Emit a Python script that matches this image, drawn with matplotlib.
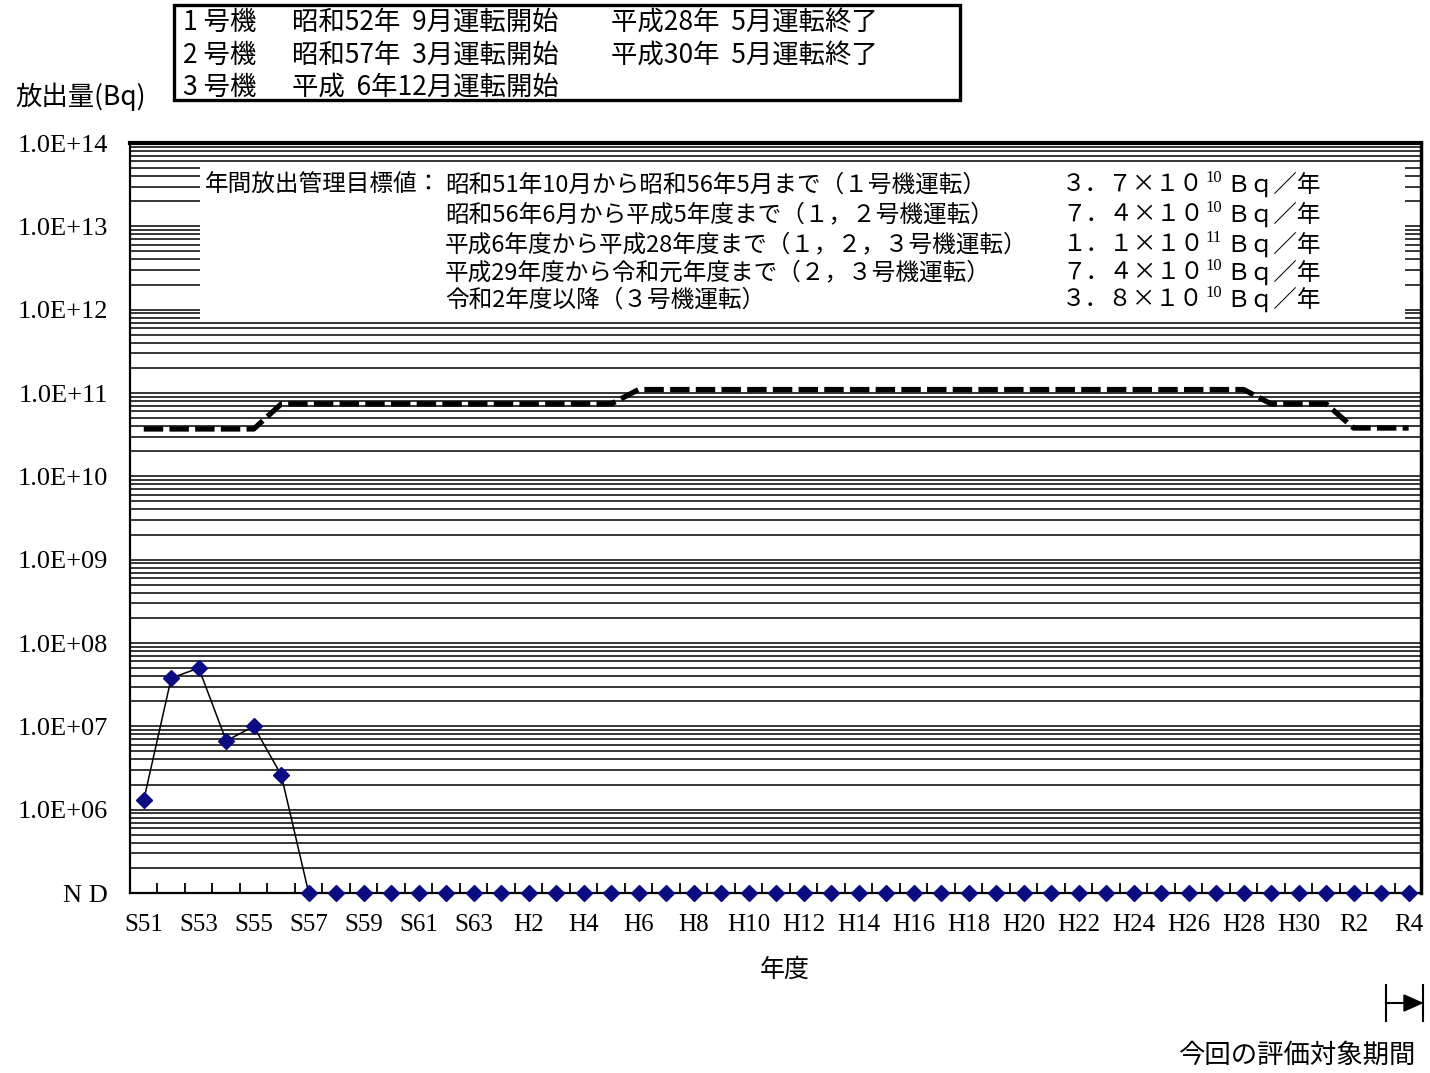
import numpy as np
import matplotlib.pyplot as plt
from matplotlib.patches import Rectangle, Polygon
from matplotlib.lines import Line2D
from matplotlib.ticker import NullLocator

plt.rcParams['font.family'] = ['Noto Sans CJK JP', 'DejaVu Sans']
plt.rcParams['lines.scale_dashes'] = False

# 年度ラベル (S51 ～ R4)
years = (['S%d' % y for y in range(51, 64)]
         + ['H%d' % y for y in range(1, 31)]
         + ['R%d' % y for y in range(1, 5)])

# 放出量 (Bq)、None は ND
ND = None
release = [1.3e6, 3.8e7, 5.0e7, 6.7e6, 1.0e7, 2.6e6] + [ND] * 41
ND_LEVEL = 1e5

# 年間放出管理目標値と適用年度数
target_values = [3.7e10, 7.4e10, 1.1e11, 7.4e10, 3.8e10]
target_years = [5, 13, 23, 3, 3]
target = np.repeat(target_values, target_years)

units = ['1 号機', '2 号機', '3 号機']
unit_start = ['昭和52年  9月運転開始', '昭和57年  3月運転開始', '平成  6年12月運転開始']
unit_stop = ['平成28年  5月運転終了', '平成30年  5月運転終了', '']

target_title = '年間放出管理目標値：'
target_periods = ['昭和51年10月から昭和56年5月まで（１号機運転）',
                  '昭和56年6月から平成5年度まで（１，２号機運転）',
                  '平成6年度から平成28年度まで（１，２，３号機運転）',
                  '平成29年度から令和元年度まで（２，３号機運転）',
                  '令和2年度以降（３号機運転）']
target_mant = ['３．７×１０', '７．４×１０', '１．１×１０', '７．４×１０', '３．８×１０']
target_exp = ['10', '10', '11', '10', '10']

W, H = 1430, 1073


def fx(px):
    return px / W


def fy(py):
    return 1 - py / H


fig = plt.figure(figsize=(W / 100, H / 100), dpi=100)
ax = fig.add_axes([fx(130), fy(893), fx(1421) - fx(130), fy(143) - fy(893)])
ax.set_yscale('log')
ax.set_ylim(ND_LEVEL, 1e14)
x = np.arange(len(years))
ax.set_xlim(-0.5, 46.45)

# 横線 (1～9 × 10^k)
for k in range(5, 14):
    for m in range(1, 10):
        lvl = m * 10.0 ** k
        if lvl > ND_LEVEL:
            ax.axhline(lvl, color='black', lw=1.1, zorder=1)

# 目標値の説明欄 (白抜き)
x0, x1 = (200 - 130) / 1291, (1405 - 130) / 1291
y0, y1 = (893 - 320) / 750, (893 - 163) / 750
ax.add_patch(Rectangle((x0, y0), x1 - x0, y1 - y0, transform=ax.transAxes,
                       facecolor='white', edgecolor='none', zorder=2))

ax.plot(x, target, color='black', lw=3.8, dashes=(14, 4.5), zorder=3,
        solid_capstyle='butt', dash_capstyle='butt')

vals = [ND_LEVEL if v is None else v for v in release]
ax.plot(x, vals, color='black', lw=1.1, zorder=4, clip_on=False)
ax.plot(x, vals, ls='none', marker='D', ms=8.5, color='#0b0b82',
        zorder=5, clip_on=False)

yt = [10.0 ** k for k in range(5, 15)]
ax.set_yticks(yt)
ax.set_yticklabels(['N D'] + ['1.0E+%02d' % k for k in range(6, 15)],
                   family='Liberation Serif', fontsize=19)
ax.yaxis.set_minor_locator(NullLocator())
ax.tick_params(axis='y', which='both', length=0, pad=16)

ax.set_xticks(x[::2])
ax.set_xticklabels(years[::2], family='Liberation Serif', fontsize=18)
ax.set_xticks(x[:-1] + 0.5, minor=True)
ax.tick_params(axis='x', which='major', length=0, pad=15)
ax.tick_params(axis='x', which='minor', length=7, width=1.3, direction='in')

ax.spines['left'].set_linewidth(1.6)
ax.spines['bottom'].set_linewidth(1.6)
ax.spines['top'].set_linewidth(3)
ax.spines['right'].set_linewidth(2.5)

# 目標値テキスト (指数は上付きで後置)
row_y = [185, 215, 245, 273, 300]
fig.text(fx(205), fy(row_y[0]), target_title, va='center', fontsize=17)
for yy, per, mant, ex in zip(row_y, target_periods, target_mant, target_exp):
    fig.text(fx(445), fy(yy), per, va='center', fontsize=17)
    t1 = fig.text(fx(1062), fy(yy), mant, va='center', fontsize=17)
    t2 = ax.annotate(ex, xy=(1.0, 0.5), xycoords=t1, fontsize=12, va='bottom',
                     ha='left', family='Liberation Serif', xytext=(1, -1),
                     textcoords='offset points', annotation_clip=False)
    ax.annotate('Ｂｑ／年', xy=(1.0, 0.5), xycoords=t1, fontsize=17, va='center',
                ha='left', xytext=(16, 0), textcoords='offset points',
                annotation_clip=False)

# 号機の運転期間
fig.add_artist(Rectangle((fx(174), fy(100)), fx(960) - fx(174), fy(5) - fy(100),
                         transform=fig.transFigure, fill=False, lw=2.4,
                         edgecolor='black'))
for yy, u, s, e in zip([22, 55, 87], units, unit_start, unit_stop):
    fig.text(fx(183), fy(yy), u, va='center', fontsize=19)
    fig.text(fx(292), fy(yy), s, va='center', fontsize=19)
    fig.text(fx(611), fy(yy), e, va='center', fontsize=19)

fig.text(fx(15), fy(97), '放出量(Bq)', va='center', fontsize=19)
fig.text(fx(785), fy(970), '年度', ha='center', va='center', fontsize=18)

# 評価対象期間の矢印
for bx in (1386, 1423):
    fig.add_artist(Line2D([fx(bx), fx(bx)], [fy(985), fy(1021)],
                          transform=fig.transFigure, color='black', lw=1.5))
fig.add_artist(Line2D([fx(1386), fx(1408)], [fy(1003), fy(1003)],
                      transform=fig.transFigure, color='black', lw=1.5))
fig.add_artist(Polygon([(fx(1404), fy(995)), (fx(1404), fy(1011)), (fx(1422), fy(1003))],
                       closed=True, transform=fig.transFigure, color='black'))
fig.text(fx(1415), fy(1055), '今回の評価対象期間', ha='right', va='center', fontsize=19)

fig.savefig('out.png', dpi=100)
